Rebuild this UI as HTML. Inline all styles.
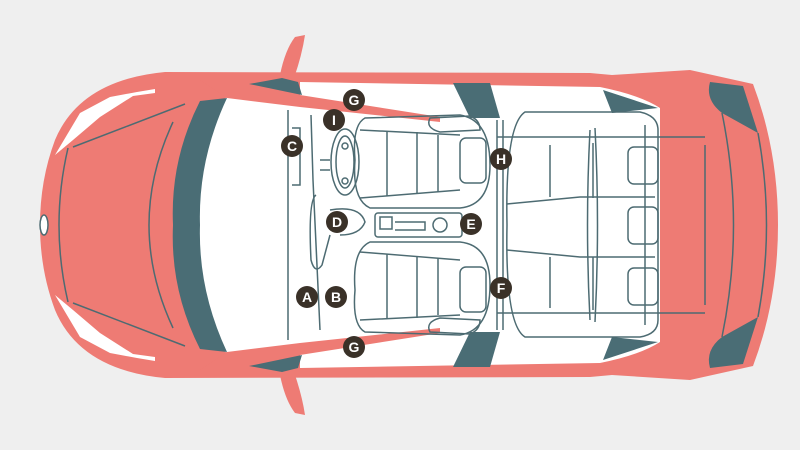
<!DOCTYPE html>
<html><head><meta charset="utf-8"><style>
html,body{margin:0;padding:0;background:#efefef;}
svg{display:block}
text{font-family:"Liberation Sans",sans-serif;font-weight:bold;font-size:14px;fill:#fff;text-anchor:middle;dominant-baseline:central}
</style></head><body>
<svg width="800" height="450" viewBox="0 0 800 450" xmlns="http://www.w3.org/2000/svg">
<rect width="800" height="450" fill="#efefef"/>
<path d="M280,75 Q285,50 295,37 L305,35 Q302,55 294,78 Z" fill="#ee7b74"/>
<path d="M280,375 Q285,400 295,413 L305,415 Q302,395 294,372 Z" fill="#ee7b74"/>
<path d="M165,72 Q80,80 55,140 Q40,180 40,225 Q40,270 55,310 Q80,370 165,378 L590,377 L612,375 L690,380 L753,366 Q778,300 778,225 Q778,150 753,84 L690,70 L612,75 L590,73 Z" fill="#ee7b74"/>
<path d="M225,98 L300,92 L300,82 L600,87 Q640,95 660,108 L660,342 Q640,355 600,363 L300,368 L300,358 L225,352 Q195,290 198,225 Q195,160 225,98 Z" fill="#fff"/>
<path d="M200,80 L300,80 L300,95 L440,117 L440,122 L300,107 L227,98 Z" fill="#ee7b74"/>
<path d="M200,370 L300,370 L300,355 L440,333 L440,328 L300,343 L227,352 Z" fill="#ee7b74"/>
<path d="M200,101 L227,98 Q198,160 200,225 Q198,290 227,352 L200,349 Q170,290 173,225 Q170,160 200,101 Z" fill="#4a6d75"/>
<path d="M249,84 L282,78 L298,82 L302,95 Z" fill="#4a6d75"/>
<path d="M249,366 L282,372 L298,368 L302,355 Z" fill="#4a6d75"/>
<path d="M453,83 L490,83 L500,118 L470,118 Z" fill="#4a6d75"/>
<path d="M453,367 L490,367 L500,332 L470,332 Z" fill="#4a6d75"/>
<path d="M603,90 L658,108 L612,113 Z" fill="#4a6d75"/>
<path d="M603,360 L658,342 L612,337 Z" fill="#4a6d75"/>
<path d="M710,82 L743,86 L758,133 L722,113 Q705,100 710,82 Z" fill="#4a6d75"/>
<path d="M710,368 L743,364 L758,317 L722,337 Q705,350 710,368 Z" fill="#4a6d75"/>
<path d="M55,155 L80,113 L110,97 L137,92 L155,89 L155,93 L133,96 L100,117 L73,140 Z" fill="#fff"/>
<path d="M55,295 L80,337 L110,353 L137,358 L155,361 L155,357 L133,354 L100,333 L73,310 Z" fill="#fff"/>
<g fill="none" stroke="#4d6b72" stroke-width="1.5">
<path d="M73,147 L185,104"/><path d="M73,303 L185,346"/>
<path d="M68,148 Q50,225 68,302"/>
<path d="M173,122 Q125,225 173,328"/>
<path d="M722,113 Q745,225 722,337"/>
<path d="M758,133 Q775,225 758,317"/>
<path d="M705,145 L705,305"/>
<path d="M497,137 L705,137"/><path d="M497,313 L705,313"/>
<ellipse cx="44" cy="225" rx="4" ry="10" fill="#fff"/>
<path d="M288,110 L288,340"/><path d="M311,115 L313,180 L320,330"/>
<path d="M292,128 L300,128 L300,185 L292,185"/>
<path d="M320,160 L330,160 M320,170 L330,170"/>
<ellipse cx="345" cy="162" rx="14" ry="33"/>
<ellipse cx="345" cy="162" rx="9" ry="26"/>
<circle cx="345" cy="146" r="3"/><circle cx="345" cy="181" r="3"/>
<path d="M316,195 Q308,200 311,260 Q315,275 322,265 L330,235"/>
<path d="M330,210 Q360,205 365,222 Q360,235 340,235"/>
<path d="M365,118 L460,115 Q490,120 490,165 Q490,205 460,208 L370,208 Q352,200 355,160 Q352,125 365,118 Z"/>
<rect x="460" y="138" width="26" height="45" rx="6"/>
<path d="M387,132 L387,196 M417,132 L417,194 M438,135 L438,192"/>
<path d="M360,130 L460,135 M360,198 L460,190"/>
<path d="M430,118 Q425,128 440,132 L480,130 Q480,120 470,116 Z"/>
<path d="M365,332 L460,335 Q490,330 490,285 Q490,245 460,242 L370,242 Q352,250 355,290 Q352,325 365,332 Z"/>
<rect x="460" y="267" width="26" height="45" rx="6"/>
<path d="M387,254 L387,318 M417,256 L417,318 M438,258 L438,315"/>
<path d="M360,320 L460,315 M360,252 L460,260"/>
<path d="M430,332 Q425,322 440,318 L480,320 Q480,330 470,334 Z"/>
<rect x="375" y="213" width="87" height="24" rx="3"/>
<rect x="380" y="217" width="12" height="12"/>
<path d="M395,222 L425,222 L425,230 L395,230"/>
<circle cx="440" cy="225" r="7"/>
<path d="M497,120 L497,330 M503,120 L503,330"/>
<path d="M525,112 L640,112 Q658,116 658,130 L658,320 Q658,334 640,337 L525,337 Q505,325 507,225 Q505,125 525,112 Z"/>
<path d="M507,204 L580,197 L655,197 M507,250 L580,257 L655,257"/>
<path d="M550,145 L550,197 M593,143 L593,198 M550,257 L550,308 M593,257 L593,310"/>
<path d="M590,130 Q585,225 590,320"/>
<path d="M595,128 Q600,225 595,322"/>
<path d="M645,125 L645,325"/>
<rect x="628" y="147" width="30" height="37" rx="6"/>
<rect x="628" y="207" width="30" height="37" rx="6"/>
<rect x="628" y="268" width="30" height="37" rx="6"/>
</g>
<g fill="#3a3128">
<circle cx="354" cy="100" r="11"/><circle cx="334" cy="120" r="11"/>
<circle cx="292" cy="146" r="11"/><circle cx="337" cy="222" r="11"/>
<circle cx="471" cy="224" r="11"/><circle cx="501" cy="159" r="11"/>
<circle cx="501" cy="288" r="11"/><circle cx="307" cy="297" r="11"/>
<circle cx="336" cy="297" r="11"/><circle cx="354" cy="347" r="11"/>
</g>
<text x="354" y="100">G</text><text x="334" y="120">I</text>
<text x="292" y="146">C</text><text x="337" y="222">D</text>
<text x="471" y="224">E</text><text x="501" y="159">H</text>
<text x="501" y="288">F</text><text x="307" y="297">A</text>
<text x="336" y="297">B</text><text x="354" y="347">G</text>
</svg>
</body></html>
